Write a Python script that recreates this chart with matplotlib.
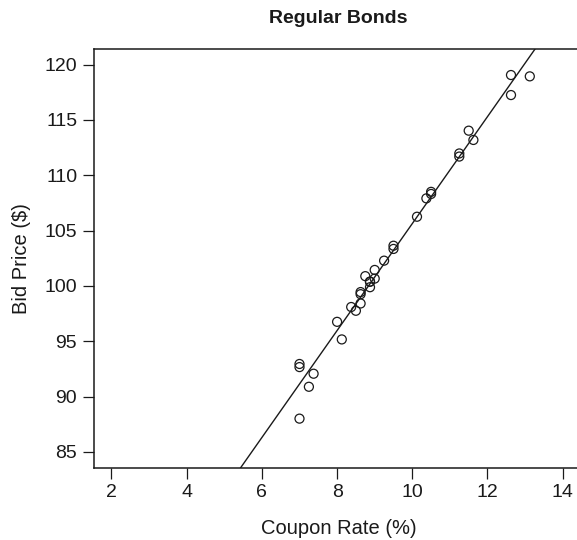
import numpy as np
import matplotlib
matplotlib.use("Agg")
import matplotlib.pyplot as plt

# Regular bonds (flower bonds left out)
coupon_rate = [7.0, 9.0, 7.0, 13.125, 8.0, 8.75, 12.625, 9.5, 10.125, 11.625,
               8.625, 10.5, 11.25, 8.375, 10.375, 11.25, 12.625, 8.875, 10.5,
               8.625, 9.5, 11.5, 8.875, 7.375, 7.25, 8.625, 8.5, 8.875, 8.125,
               9.0, 7.0, 9.25]
bid_price = [92.94, 101.44, 92.66, 118.94, 96.75, 100.88, 117.25, 103.34, 106.25,
             113.19, 99.44, 108.31, 111.69, 98.09, 107.91, 111.97, 119.06, 100.38,
             108.50, 99.25, 103.63, 114.03, 100.38, 92.06, 90.88, 98.41, 97.75,
             99.88, 95.16, 100.66, 88.00, 102.28]

x_ticks = [2, 4, 6, 8, 10, 12, 14]
y_ticks = [85, 90, 95, 100, 105, 110, 115, 120]

plt.rcParams['font.family'] = ['Liberation Sans', 'DejaVu Sans']

fig = plt.figure(figsize=(5.77, 5.4), dpi=100)
# right spine sits just off the canvas, as in the source image
ax = fig.add_axes([0.1626, 0.134, 0.8478, 0.775])

ax.scatter(coupon_rate, bid_price, s=42, facecolors='none', edgecolors='#1a1a1a',
           linewidths=0.9, zorder=3)

# least squares line
slope, intercept = np.polyfit(coupon_rate, bid_price, 1)
ax.axline((0, intercept), slope=slope, color='#1a1a1a', linewidth=1.0)

ax.set_xlim(1.53, 14.54)
ax.set_ylim(83.57, 121.4)
ax.set_xticks(x_ticks)
ax.set_yticks(y_ticks)
ax.tick_params(direction='out', length=8, width=0.9, labelsize=14, colors='#1a1a1a', pad=4)
for s in ax.spines.values():
    s.set_linewidth(1.1)
    s.set_color('#1a1a1a')

ax.set_xlabel('Coupon Rate (%)', fontsize=14.5, color='#1a1a1a', labelpad=13)
ax.set_ylabel('Bid Price ($)', fontsize=14.5, color='#1a1a1a', labelpad=10)
ax.set_title('Regular Bonds', fontsize=14, fontweight='bold', color='#1a1a1a', pad=19)

fig.savefig('out.png', dpi=100)
